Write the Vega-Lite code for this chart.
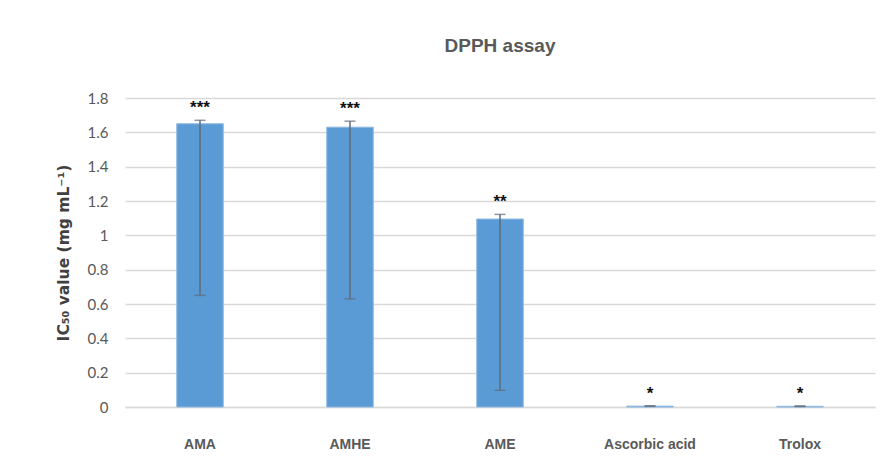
{
  "$schema": "https://vega.github.io/schema/vega-lite/v6.json",
  "autosize": "none",
  "width": 750,
  "height": 309,
  "padding": {"left": 125, "top": 98, "right": 13, "bottom": 67},
  "background": "white",
  "config": {
    "view": {"stroke": null},
    "axisY": {
      "titleFont": "DejaVu Sans",
      "titleFontSize": 15.5,
      "titleFontWeight": "bold",
      "titleColor": "#404040",
      "titlePadding": 16,
      "tickCount": 10,
      "labelOverlap": false,
      "labelFont": "Lato",
      "labelFontSize": 15,
      "labelColor": "#595959",
      "labelPadding": 17,
      "ticks": false,
      "domain": false,
      "gridColor": "#d9d9d9",
      "gridWidth": 1.5
    }
  },
  "title": {
    "text": "DPPH assay",
    "font": "Liberation Sans",
    "fontSize": 19,
    "fontWeight": "bold",
    "color": "#595959",
    "anchor": "middle",
    "offset": 35
  },
  "data": {
    "values": [
      {"sample": "AMA", "value": 1.65, "low": 0.65, "high": 1.67, "sig": "***"},
      {"sample": "AMHE", "value": 1.63, "low": 0.63, "high": 1.665, "sig": "***"},
      {"sample": "AME", "value": 1.095, "low": 0.097, "high": 1.122, "sig": "**"},
      {"sample": "Ascorbic acid", "value": 0.005, "low": 0.004, "high": 0.007, "sig": "*"},
      {"sample": "Trolox", "value": 0.004, "low": 0.003, "high": 0.006, "sig": "*"}
    ]
  },
  "encoding": {
    "x": {
      "field": "sample",
      "type": "nominal",
      "sort": null,
      "scale": {"paddingInner": 0.69, "paddingOuter": 0.345},
      "axis": {
        "title": null,
        "labelAngle": 0,
        "labelFont": "Liberation Sans",
        "labelFontSize": 14,
        "labelFontWeight": "bold",
        "labelColor": "#595959",
        "labelPadding": 30,
        "ticks": false,
        "domainColor": "#d9d9d9",
        "domainWidth": 1.5
      }
    }
  },
  "layer": [
    {
      "mark": {"type": "bar", "color": "#5B9BD5", "stroke": "#8DB8E2", "strokeWidth": 1},
      "encoding": {
        "y": {
          "field": "value",
          "type": "quantitative",
          "scale": {"domain": [0, 1.8], "nice": false},
          "axis": {"title": "IC₅₀ value (mg mL⁻¹)", "values": [0, 0.2, 0.4, 0.6, 0.8, 1, 1.2, 1.4, 1.6, 1.8], "format": "~g"}
        }
      }
    },
    {
      "mark": {"type": "rule", "color": "#5F6B78", "strokeWidth": 1.5},
      "encoding": {
        "y": {"field": "low", "type": "quantitative", "axis": {"title": "IC₅₀ value (mg mL⁻¹)", "values": [0, 0.2, 0.4, 0.6, 0.8, 1, 1.2, 1.4, 1.6, 1.8], "format": "~g"}},
        "y2": {"field": "high"}
      }
    },
    {
      "mark": {"type": "tick", "color": "#5F6B78", "size": 11, "thickness": 1.5},
      "encoding": {"y": {"field": "high", "type": "quantitative", "axis": {"title": "IC₅₀ value (mg mL⁻¹)", "values": [0, 0.2, 0.4, 0.6, 0.8, 1, 1.2, 1.4, 1.6, 1.8], "format": "~g"}}}
    },
    {
      "mark": {"type": "tick", "color": "#5F6B78", "size": 11, "thickness": 1.5},
      "encoding": {"y": {"field": "low", "type": "quantitative", "axis": {"title": "IC₅₀ value (mg mL⁻¹)", "values": [0, 0.2, 0.4, 0.6, 0.8, 1, 1.2, 1.4, 1.6, 1.8], "format": "~g"}}}
    },
    {
      "mark": {"type": "text", "font": "Liberation Sans", "fontSize": 17, "fontWeight": "bold", "color": "#111111", "baseline": "middle", "dy": -12},
      "encoding": {
        "y": {"field": "high", "type": "quantitative", "axis": {"title": "IC₅₀ value (mg mL⁻¹)", "values": [0, 0.2, 0.4, 0.6, 0.8, 1, 1.2, 1.4, 1.6, 1.8], "format": "~g"}},
        "text": {"field": "sig"}
      }
    }
  ]
}
